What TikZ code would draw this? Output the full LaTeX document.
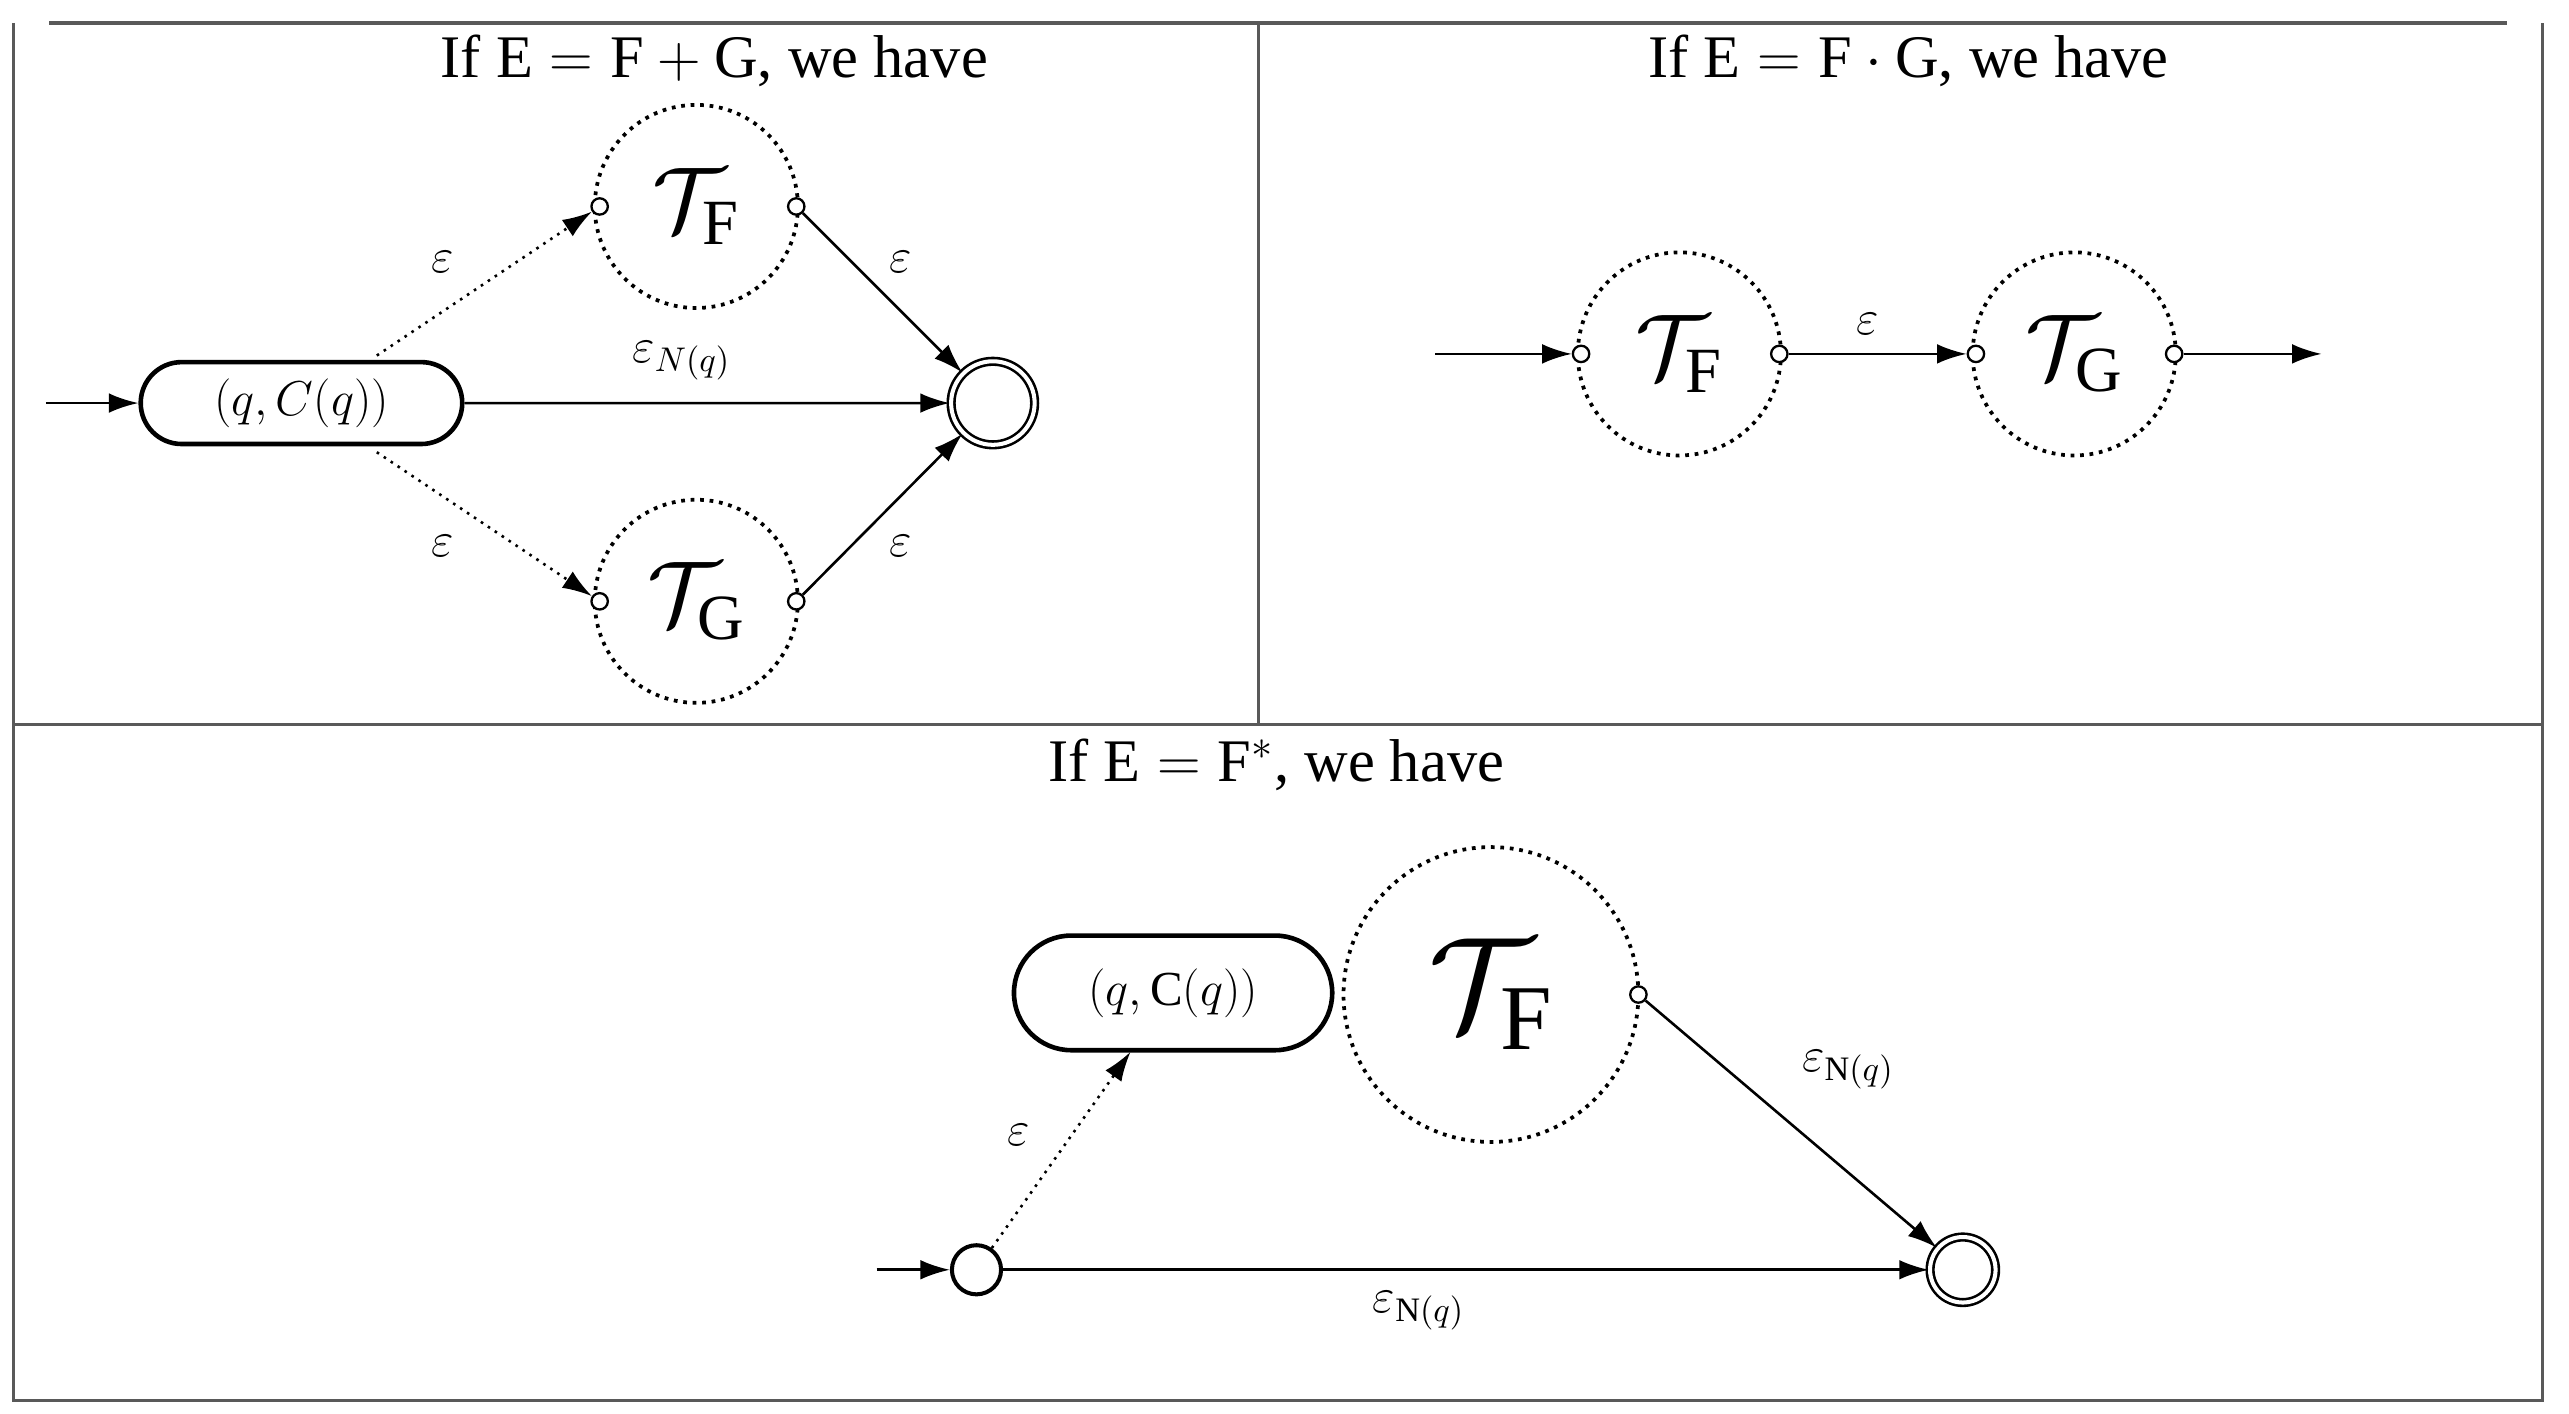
\RequirePackage{fix-cm}
\documentclass[tikz,border=0pt]{standalone}
\usepackage{fontspec}
\setmainfont{Liberation Serif}
\usetikzlibrary{arrows.meta,shapes.misc}
\begin{document}
\begin{tikzpicture}[x=0.02cm,y=-0.02cm,
  frame/.style={draw=black!65,line width=1.1pt},
  title/.style={font=\fontsize{21}{25}\selectfont},
  lbl/.style={font=\fontsize{17}{20}\selectfont},
  stad/.style={draw,rounded rectangle,line width=1.6pt,minimum width=4.16cm,minimum height=1cm,font=\fontsize{17}{20}\selectfont},
  sub/.style={draw,circle,dotted,line width=1.3pt,minimum size=2.48cm,inner sep=0pt,font=\fontsize{32}{36}\selectfont},
  port/.style={draw,circle,fill=white,line width=0.8pt,minimum size=0.2cm,inner sep=0pt},
  fin/.style={draw,circle,double,double distance=1.4pt,line width=0.9pt,inner sep=0pt},
  ar/.style={-{Latex[length=0.36cm,width=0.24cm]},line width=0.9pt},
  dar/.style={ar,dotted}]
\useasboundingbox (0,0) rectangle (1568,863);
% frame
\draw[frame] (30,14) -- (1530,14);
\draw[frame] (8,14) -- (8,855) -- (1552,855) -- (1552,14);
\draw[frame] (8,442) -- (1552,442);
\draw[frame] (768,14) -- (768,442);
% ---- panel 1
\node[title] (t1) at (436,37) {If $\mathrm{E}=\mathrm{F}+\mathrm{G}$, we have};
\coordinate (s1) at (28,246);
\node[stad] (q1) at (184,246) {$(q,C(q))$};
\node[sub] (F1) at (425,126) {$\mathcal{T}_{\mathrm{F}}$};
\node[sub] (G1) at (425,367) {$\mathcal{T}_{\mathrm{G}}$};
\node[port] (F1i) at (366,126) {};
\node[port] (F1o) at (486,126) {};
\node[port] (G1i) at (366,367) {};
\node[port] (G1o) at (486,367) {};
\node[fin,minimum size=1.02cm] (f1) at (606,246) {};
\coordinate (qa) at (230,217);
\coordinate (qb) at (230,276);
\draw[ar] (s1) -- (q1);
\draw[dar] (qa) -- (F1i);
\draw[dar] (qb) -- (G1i);
\draw[ar] (q1) -- (f1);
\draw[ar] (F1o) -- (f1);
\draw[ar] (G1o) -- (f1);
\node[lbl] (e1) at (270,160) {$\varepsilon$};
\node[lbl] (e2) at (270,333) {$\varepsilon$};
\node[lbl] (e3) at (550,160) {$\varepsilon$};
\node[lbl] (e4) at (550,333) {$\varepsilon$};
\node[lbl] (e5) at (416,220) {$\varepsilon_{N(q)}$};
% ---- panel 2
\node[title] (t2) at (1165,37) {If $\mathrm{E}=\mathrm{F}\cdot\mathrm{G}$, we have};
\node[sub] (F2) at (1025,216) {$\mathcal{T}_{\mathrm{F}}$};
\node[sub] (G2) at (1266,216) {$\mathcal{T}_{\mathrm{G}}$};
\node[port] (F2i) at (965,216) {};
\node[port] (F2o) at (1086,216) {};
\node[port] (G2i) at (1206,216) {};
\node[port] (G2o) at (1327,216) {};
\coordinate (s2) at (876,216);
\coordinate (e2end) at (1417,216);
\draw[ar] (s2) -- (F2i);
\draw[ar] (F2o) -- (G2i);
\draw[ar] (G2o) -- (e2end);
\node[lbl] (e6) at (1140,198) {$\varepsilon$};
% ---- panel 3
\node[title] (t3) at (779,467) {If $\mathrm{E}=\mathrm{F}^{*}$, we have};
\node[sub,minimum size=3.6cm,font=\fontsize{46}{50}\selectfont] (F3) at (910,607) {$\mathcal{T}_{\mathrm{F}}$};
\node[stad,minimum width=4.12cm,minimum height=1.4cm] (q3) at (716,606) {$(q,\mathrm{C}(q))$};
\node[port] (F3o) at (1000,607) {};
\node[draw,circle,line width=1.4pt,minimum size=0.6cm,inner sep=0pt] (i3) at (596,775) {};
\node[fin,minimum size=0.8cm] (f3) at (1198,775) {};
\coordinate (s3) at (535,775);
\coordinate (q3b) at (690,642);
\draw[ar] (s3) -- (i3);
\draw[dar] (i3) -- (q3b);
\draw[ar] (F3o) -- (f3);
\draw[ar] (i3) -- (f3);
\node[lbl] (e7) at (622,693) {$\varepsilon$};
\node[lbl] (e8) at (1128,653) {$\varepsilon_{\mathrm{N}(q)}$};
\node[lbl] (e9) at (866,800) {$\varepsilon_{\mathrm{N}(q)}$};
\end{tikzpicture}
\end{document}
